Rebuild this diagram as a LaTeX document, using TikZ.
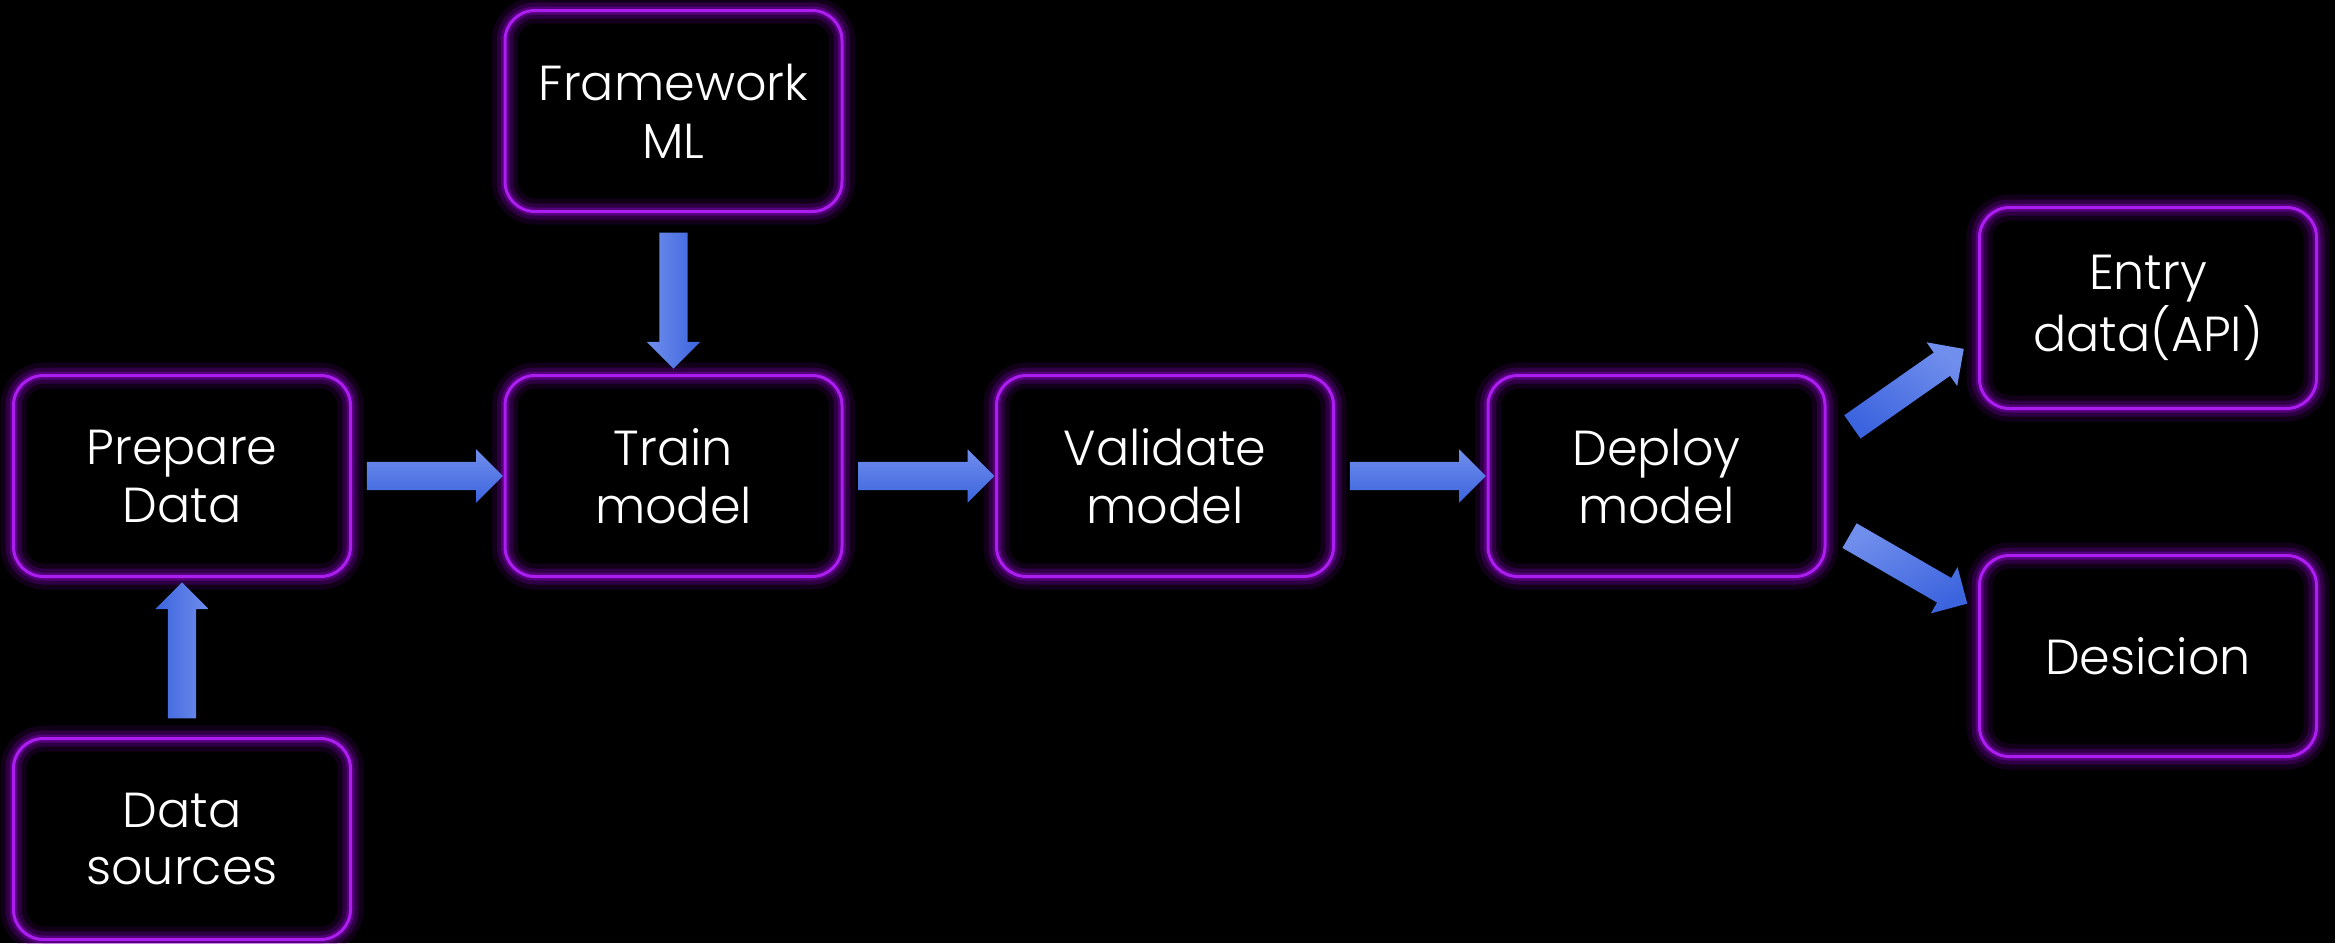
\documentclass[tikz,border=0pt]{standalone}
\usepackage{fontspec}
\setmainfont{Poppins}[UprightFont=* Light]
\usetikzlibrary{shapes.arrows,positioning}
\definecolor{glowviolet}{RGB}{150,0,215}
\definecolor{edgeviolet}{RGB}{172,30,240}
\definecolor{flowlight}{RGB}{112,142,236}
\definecolor{flowdark}{RGB}{60,100,222}

\begin{document}
\begin{tikzpicture}
\tikzstyle{stage}=[rectangle, rounded corners=0.3cm, minimum width=3.37cm,
minimum height=2.01cm, inner sep=0pt, align=center, text=white,
font=\fontsize{14}{16.5}\selectfont, draw=edgeviolet, line width=0.03cm,
preaction={draw=glowviolet, line width=0.26cm, opacity=0.12},
preaction={draw=glowviolet, line width=0.16cm, opacity=0.22},
preaction={draw=glowviolet, line width=0.08cm, opacity=0.38}]
\tikzstyle{flow}=[single arrow, minimum height=1.36cm, minimum width=0.52cm,
single arrow head extend=0.125cm, single arrow head indent=0pt,
inner xsep=0pt, inner ysep=0.135cm, shading=axis,
top color=flowlight, bottom color=flowdark]

\fill[black] (0,0) rectangle (23.35,-9.43);
\useasboundingbox (0,0) rectangle (23.35,-9.43);

\node[stage] at (1.82,-4.76) (prep) {Prepare\\Data};
\node[stage, right=1.515cm of prep] (train) {Train\\model};
\node[stage, right=1.515cm of train] (valid) {Validate\\model};
\node[stage, right=1.515cm of valid] (deploy) {Deploy\\model};
\node[stage, above=1.61cm of train] (frame) {Framework\\ML};
\node[stage, below=1.59cm of prep] (sources) {Data\\sources};
\node[stage, right=1.515cm of deploy, yshift=1.68cm] (entry) {Entry\\data(API)};
\node[stage, right=1.515cm of deploy, yshift=-1.80cm] (desicion) {Desicion};

\path (prep) -- node[flow] {} (train);
\path (train) -- node[flow] {} (valid);
\path (valid) -- node[flow] {} (deploy);
\path (frame) -- node[flow, rotate=-90, shading angle=90] {} (train);
\path (sources) -- node[flow, rotate=90, shading angle=-90] {} (prep);
\path (deploy) -- node[flow, rotate=35, shading angle=-35] {} (entry);
\path (deploy) -- node[flow, rotate=-30, shading angle=30] {} (desicion);

\end{tikzpicture}
\end{document}
